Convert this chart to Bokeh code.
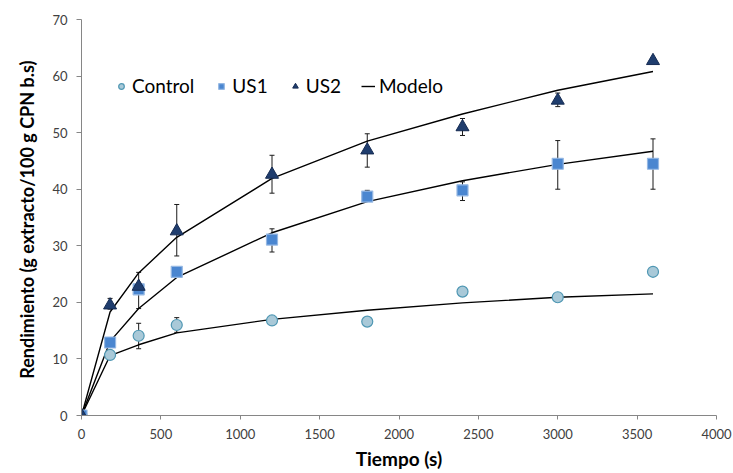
from bokeh.plotting import figure
from bokeh.models import ColumnDataSource, Whisker, TeeHead, Legend, LegendItem, FixedTicker, Range1d
from bokeh.embed import file_html
from bokeh.resources import INLINE

# ---- data ----
tiempo = [0, 180, 360, 600, 1200, 1800, 2400, 3000, 3600]

control = [0, 10.7, 14.1, 16.0, 16.8, 16.6, 21.9, 20.9, 25.4]
us1 = [0, 12.9, 22.3, 25.4, 31.1, 38.7, 39.8, 44.5, 44.5]
us2 = [0, 19.5, 22.8, 32.6, 42.6, 46.9, 51.0, 55.7, 62.7]

modelo_control = [0, 10.6, 12.5, 14.6, 17.0, 18.6, 19.9, 20.9, 21.5]
modelo_us1 = [0, 13.1, 18.9, 24.4, 32.3, 37.8, 41.5, 44.4, 46.7]
modelo_us2 = [0, 18.3, 25.2, 31.5, 41.9, 48.5, 53.3, 57.5, 60.8]

# error bars (time, lower, upper)
err_control_t = [360, 600]
err_control_lo = [11.8, 14.7]
err_control_hi = [16.3, 17.3]

err_us1_t = [360, 1200, 1800, 2400, 3000, 3600]
err_us1_lo = [18.9, 28.9, 38.2, 38.0, 40.0, 40.0]
err_us1_hi = [25.3, 33.0, 39.8, 41.3, 48.6, 48.9]

err_us2_t = [180, 600, 1200, 1800, 2400, 3000]
err_us2_lo = [18.8, 28.2, 39.3, 43.9, 49.5, 54.6]
err_us2_hi = [20.7, 37.3, 46.0, 49.8, 52.5, 57.0]

x_ticks = [0, 500, 1000, 1500, 2000, 2500, 3000, 3500, 4000]
y_ticks = [0, 10, 20, 30, 40, 50, 60, 70]

FONT = "Lato"

p = figure(width=733, height=472, output_backend="svg", toolbar_location=None,
           x_range=Range1d(0, 4000), y_range=Range1d(0, 70),
           min_border_left=81, min_border_right=17, min_border_top=19, min_border_bottom=56)
p.outline_line_color = None
p.xgrid.grid_line_color = None
p.ygrid.grid_line_color = None

for ax in (p.xaxis[0], p.yaxis[0]):
    ax.axis_line_color = "#868686"
    ax.major_tick_line_color = "#868686"
    ax.minor_tick_line_color = None
    ax.major_tick_in = 0
    ax.major_label_text_font = FONT
    ax.major_label_text_font_size = "13px"
    ax.major_label_text_color = "#404040"
    ax.axis_label_text_font = FONT
    ax.axis_label_text_font_style = "bold"
    ax.axis_label_text_color = "#000000"

p.xaxis.ticker = FixedTicker(ticks=x_ticks)
p.yaxis.ticker = FixedTicker(ticks=y_ticks)
p.xaxis.major_tick_out = 4
p.yaxis.major_tick_out = 5
p.xaxis.major_label_standoff = 9
p.yaxis.major_label_standoff = 9
p.xaxis.axis_label = "Tiempo (s)"
p.yaxis.axis_label = "Rendimiento (g extracto/100 g  CPN b.s)"
p.xaxis.axis_label_text_font_size = "19px"
p.yaxis.axis_label_text_font_size = "18px"
p.xaxis.axis_label_standoff = 5
p.yaxis.axis_label_standoff = 11

# model lines
l1 = p.line(tiempo, modelo_control, line_color="black", line_width=1.4)
p.line(tiempo, modelo_us1, line_color="black", line_width=1.4)
p.line(tiempo, modelo_us2, line_color="black", line_width=1.4)

# error bars
for t, lo, hi in ((err_control_t, err_control_lo, err_control_hi),
                  (err_us1_t, err_us1_lo, err_us1_hi),
                  (err_us2_t, err_us2_lo, err_us2_hi)):
    src = ColumnDataSource(dict(base=t, lower=lo, upper=hi))
    w = Whisker(source=src, base="base", lower="lower", upper="upper",
                line_color="#1a1a1a", line_width=1,
                upper_head=TeeHead(size=5, line_color="#1a1a1a", line_width=1),
                lower_head=TeeHead(size=5, line_color="#1a1a1a", line_width=1))
    p.add_layout(w)

# markers
r_c = p.scatter(tiempo, control, marker="circle", size=11,
                fill_color="#a9c9d8", line_color="#4f97b3", line_width=1.2)
r_1 = p.scatter(tiempo, us1, marker="square", size=11,
                fill_color="#4a86d0", line_color="#95b8e3", line_width=1.2)
r_2 = p.scatter(tiempo, us2, marker="triangle", size=13,
                fill_color="#1f3d6e", line_color="#152b52", line_width=1)

legend = Legend(items=[
    LegendItem(label="Control", renderers=[r_c]),
    LegendItem(label="US1", renderers=[r_1]),
    LegendItem(label="US2", renderers=[r_2]),
    LegendItem(label="Modelo", renderers=[l1]),
], orientation="horizontal", location=(33, 318),
    glyph_width=14, glyph_height=20, label_standoff=4, spacing=20,
    padding=0, margin=0, border_line_color=None, background_fill_alpha=0,
    label_text_font=FONT, label_text_font_size="19px", label_text_color="#000000")
p.add_layout(legend, "center")

open("out.html", "w").write(file_html(p, INLINE))
